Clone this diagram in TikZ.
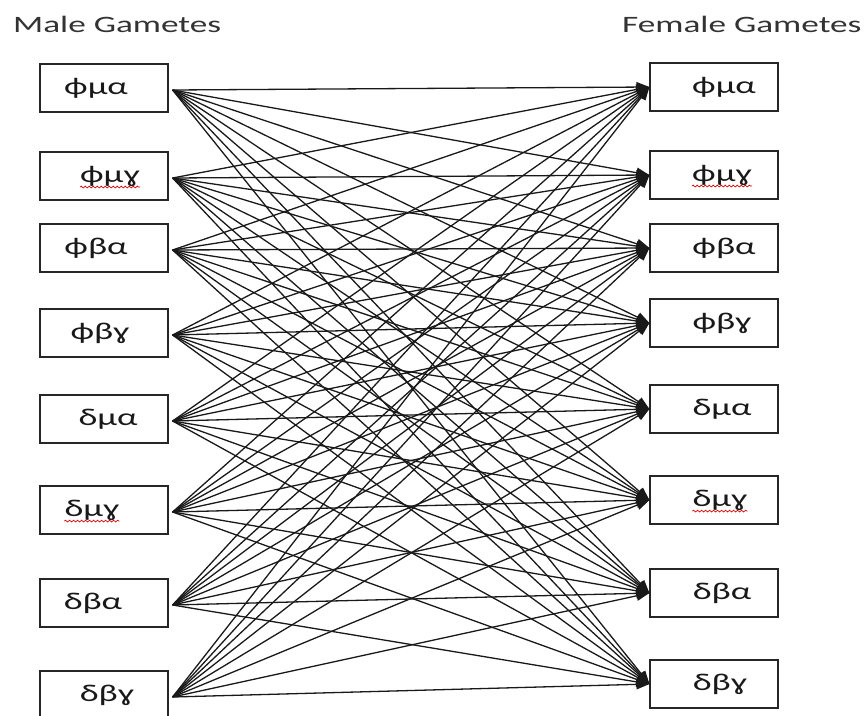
\documentclass[tikz,border=0pt]{standalone}
\usepackage{fontspec}
\setmainfont{Carlito}[FakeStretch=1.5]
\usetikzlibrary{arrows.meta,calc,decorations.pathmorphing}
\begin{document}
\begin{tikzpicture}[x=1pt,y=-1pt,
  gbox/.style={draw=black!85,line width=1.2pt,minimum width=128pt,minimum height=48pt,inner sep=0pt},
  lbl/.style={inner sep=0pt,font=\fontsize{24}{26}\selectfont,text=black!90},
  head/.style={inner sep=0pt,anchor=base west,font=\fontsize{23.5}{26}\selectfont,text=black!80},
  conn/.style={draw=black!90,line width=1.3pt,-{Triangle[length=13pt,width=10pt]}},
  wavy/.style={draw=red!85!black,line width=0.7pt,decorate,decoration={snake,segment length=4pt,amplitude=0.9pt}}]
\useasboundingbox (0,0) rectangle (864,715);

% column headings
\node[head] (mh) at (13,32) {Male Gametes};
\node[head] (fh) at (622,32) {Female Gametes};

% male gamete boxes (left column)
\node[gbox] (L1) at (104,88)  {};
\node[gbox] (L2) at (104,176) {};
\node[gbox] (L3) at (104,248) {};
\node[gbox] (L4) at (104,333) {};
\node[gbox] (L5) at (104,419) {};
\node[gbox] (L6) at (104,510) {};
\node[gbox] (L7) at (104,603) {};
\node[gbox] (L8) at (104,695) {};

% female gamete boxes (right column)
\node[gbox] (R1) at (714,87)  {};
\node[gbox] (R2) at (714,175) {};
\node[gbox] (R3) at (714,248) {};
\node[gbox] (R4) at (714,323) {};
\node[gbox] (R5) at (714,409) {};
\node[gbox] (R6) at (714,500) {};
\node[gbox] (R7) at (714,593) {};
\node[gbox] (R8) at (714,684) {};

% gamete labels
\node[lbl] (L1t) at ($(L1)+(-8,0)$)  {ϕμα};
\node[lbl] (L2t) at ($(L2)+(6,0)$)   {ϕμɣ};
\node[lbl] (L3t) at ($(L3)+(-8,0)$)  {ϕβα};
\node[lbl] (L4t) at ($(L4)+(-4,0)$)  {ϕβɣ};
\node[lbl] (L5t) at ($(L5)+(4,0)$)   {δμα};
\node[lbl] (L6t) at ($(L6)+(-12,0)$) {δμɣ};
\node[lbl] (L7t) at ($(L7)+(-11,0)$) {δβα};
\node[lbl] (L8t) at ($(L8)+(3,0)$)   {δβɣ};
\node[lbl] (R1t) at ($(R1)+(10,0)$)  {ϕμα};
\node[lbl] (R2t) at ($(R2)+(8,0)$)   {ϕμɣ};
\node[lbl] (R3t) at ($(R3)+(10,0)$)  {ϕβα};
\node[lbl] (R4t) at ($(R4)+(8,0)$)   {ϕβɣ};
\node[lbl] (R5t) at ($(R5)+(8,0)$)   {δμα};
\node[lbl] (R6t) at ($(R6)+(6,0)$)   {δμɣ};
\node[lbl] (R7t) at ($(R7)+(8,0)$)   {δβα};
\node[lbl] (R8t) at ($(R8)+(6,0)$)   {δβɣ};

% spell-check squiggles
\foreach \t in {L2t,L6t,R2t,R6t}
  \draw[wavy] ($(\t.base west)+(0,5)$) -- ($(\t.base east)+(0,5)$);

% every male gamete meets every female gamete
\foreach \i in {1,...,8}
  \foreach \j in {1,...,8}
    \draw[conn] ($(L\i.east)+(4,2)$) -- (R\j.west);
\end{tikzpicture}
\end{document}
